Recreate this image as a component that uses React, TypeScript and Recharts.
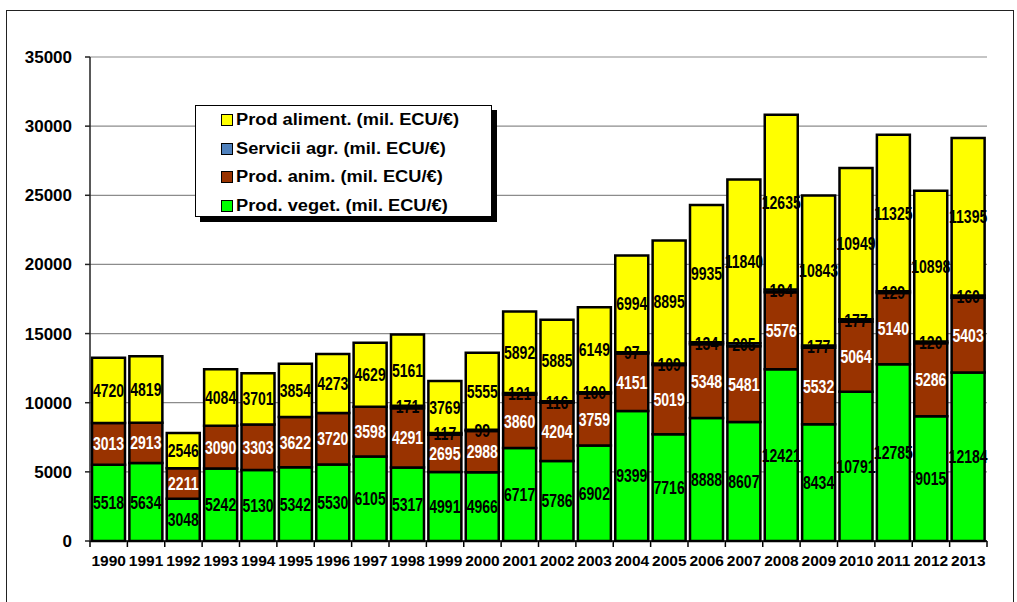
import React from 'react';
import { BarChart, Bar, XAxis, YAxis, CartesianGrid, LabelList } from 'recharts';

const years = [
  '1990', '1991', '1992', '1993', '1994', '1995', '1996', '1997', '1998', '1999', '2000', '2001',
  '2002', '2003', '2004', '2005', '2006', '2007', '2008', '2009', '2010', '2011', '2012', '2013',
];
const prodVeget = [
  5518, 5634, 3048, 5242, 5130, 5342, 5530, 6105, 5317, 4991, 4966, 6717,
  5786, 6902, 9399, 7716, 8888, 8607, 12421, 8434, 10791, 12785, 9015, 12184,
];
const prodAnim = [
  3013, 2913, 2211, 3090, 3303, 3622, 3720, 3598, 4291, 2695, 2988, 3860,
  4204, 3759, 4151, 5019, 5348, 5481, 5576, 5532, 5064, 5140, 5286, 5403,
];
const serviciiAgr = [
  null, null, null, null, null, null, null, null, 171, 117, 99, 121,
  116, 100, 97, 109, 134, 205, 194, 177, 177, 129, 120, 160,
];
const prodAliment = [
  4720, 4819, 2546, 4084, 3701, 3854, 4273, 4629, 5161, 3769, 5555, 5892,
  5885, 6149, 6994, 8895, 9935, 11840, 12635, 10843, 10949, 11325, 10898, 11395,
];
const yTicks = [0, 5000, 10000, 15000, 20000, 25000, 30000, 35000];

// stacking order bottom -> top
const series = [
  { key: 'veget', name: 'Prod. veget. (mil. ECU/€)', color: '#00ff00', text: '#000' },
  { key: 'anim', name: 'Prod. anim. (mil. ECU/€)', color: '#993300', text: '#fff' },
  { key: 'serv', name: 'Servicii agr. (mil. ECU/€)', color: '#4f81bd', text: '#000' },
  { key: 'aliment', name: 'Prod aliment. (mil. ECU/€)', color: '#ffff00', text: '#000' },
];

const data = years.map((year, i) => ({
  year,
  veget: prodVeget[i],
  anim: prodAnim[i],
  serv: serviciiAgr[i],
  aliment: prodAliment[i],
}));

const W = 1017;
const H = 602;
const LEFT = 90;
const RIGHT = 30;
const BAND = (W - LEFT - RIGHT) / years.length;
const FONT = 'Arial, "Liberation Sans", sans-serif';

const XTick = (props: any) => {
  const { x, y, payload, index } = props;
  const bx = x - BAND / 2;
  return (
    <g>
      <line x1={bx} y1={y} x2={bx} y2={y + 6} stroke="#000" strokeWidth={1.5} />
      {index === years.length - 1 && (
        <line x1={x + BAND / 2} y1={y} x2={x + BAND / 2} y2={y + 6} stroke="#000" strokeWidth={1.5} />
      )}
      <text x={x} y={y + 25} textAnchor="middle" fontFamily={FONT} fontWeight="bold" fontSize={15.5} fill="#000">
        {payload.value}
      </text>
    </g>
  );
};

// condensed bold label centred in its segment
const makeLabel = (fill: string) => (props: any) => {
  const { x, y, width, height, value } = props;
  if (value == null) return null;
  const cx = x + width / 2;
  const cy = y + height / 2;
  return (
    <text
      transform={`translate(${cx},${cy}) scale(0.78,1)`}
      x={0}
      y={0}
      dy="0.36em"
      textAnchor="middle"
      fontFamily={FONT}
      fontWeight="bold"
      fontSize={18}
      fill={fill}
    >
      {value}
    </text>
  );
};

const LegendBox = () => (
  <div
    style={{
      position: 'absolute',
      left: 195,
      top: 105,
      width: 295,
      height: 110,
      border: '1px solid #000',
      background: '#fff',
      boxShadow: '5px 5px 0 #000',
      fontFamily: FONT,
      fontWeight: 'bold',
      fontSize: 16,
      color: '#000',
    }}
  >
    {[...series].reverse().map((s) => (
      <div key={s.key} style={{ height: 28.5, display: 'flex', alignItems: 'center', paddingLeft: 25 }}>
        <span
          style={{
            display: 'inline-block',
            width: 10,
            height: 10,
            background: s.color,
            border: '1px solid #000',
            marginRight: 3,
            flexShrink: 0,
          }}
        />
        <span style={{ display: 'inline-block', whiteSpace: 'nowrap', transform: 'scaleX(1.14)', transformOrigin: 'left center' }}>
          {s.name}
        </span>
      </div>
    ))}
  </div>
);

export default function App() {
  return (
    <div style={{ position: 'absolute', left: 0, top: 0, width: W, height: H, background: '#fff', overflow: 'hidden' }}>
      <div
        style={{
          position: 'absolute',
          left: 6,
          top: 10,
          width: 1006,
          height: 620,
          border: '1.5px solid #222',
        }}
      />
      <div style={{ position: 'absolute', left: 0, top: 0 }}>
        <BarChart
          width={W}
          height={H}
          data={data}
          margin={{ top: 57, right: RIGHT, left: 0, bottom: 0 }}
          barCategoryGap={2}
        >
          <CartesianGrid vertical={false} stroke="#8c8c8c" strokeWidth={1.2} />
          <XAxis
            dataKey="year"
            height={61}
            interval={0}
            tickLine={false}
            tickSize={0}
            tickMargin={0}
            axisLine={{ stroke: '#000', strokeWidth: 1.5 }}
            tick={<XTick />}
          />
          <YAxis
            width={LEFT}
            domain={[0, 35000]}
            ticks={yTicks}
            interval={0}
            tickSize={5}
            tickMargin={13}
            axisLine={{ stroke: '#222', strokeWidth: 1.5 }}
            tickLine={{ stroke: '#222', strokeWidth: 1.5 }}
            tick={{ fill: '#000', fontFamily: FONT, fontWeight: 'bold', fontSize: 17 }}
          />
          <YAxis
            yAxisId="frame"
            orientation="right"
            width={0}
            tick={false}
            tickLine={false}
            axisLine={{ stroke: '#8c8c8c', strokeWidth: 1.5 }}
          />
          {series.map((s) => (
            <Bar
              key={s.key}
              dataKey={s.key}
              name={s.name}
              stackId="a"
              fill={s.color}
              stroke="#000"
              strokeWidth={2.5}
              isAnimationActive={false}
            >
              <LabelList dataKey={s.key} content={makeLabel(s.text)} />
            </Bar>
          ))}
        </BarChart>
      </div>
      <LegendBox />
    </div>
  );
}
